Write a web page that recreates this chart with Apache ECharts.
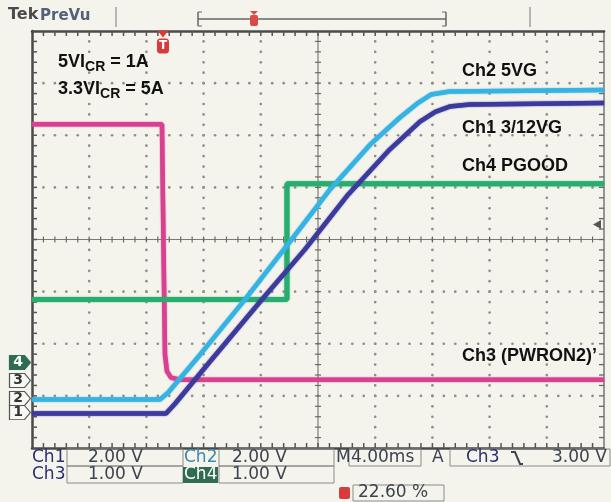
<!DOCTYPE html>
<html><head><meta charset="utf-8">
<script src="https://cdn.jsdelivr.net/npm/echarts@6/dist/echarts.min.js"></script>
<style>html,body{margin:0;padding:0;background:#f4f4ec;}#c{width:611px;height:502px;}</style>
</head><body><div id="c"></div>
<script>
// time in ms relative to screen centre (4 ms/div), level in screen divisions
const ch1Time = [-20, -10.63, -10.00, -7.55, -3.92, -0.91, 2.10, 5.03, 7.13, 8.20, 9.20, 10.6, 20];
const ch1Div  = [-3.34, -3.34, -3.15, -2.34, -1.15, -0.19, 0.86, 1.73, 2.26, 2.45, 2.55, 2.59, 2.62];
const ch2Time = [-20, -11.05, -10.49, -8.25, -5.10, -1.96, 0.84, 3.64, 5.73, 6.90, 7.90, 9.20, 20];
const ch2Div  = [-3.07, -3.07, -2.94, -2.21, -1.15, -0.04, 0.96, 1.82, 2.34, 2.60, 2.78, 2.84, 2.87];
const ch3Time = [-20, -10.91, -10.80, -10.70, -10.56, -10.28, -9.65, 20];
const ch3Div  = [2.21, 2.21, -0.19, -2.21, -2.53, -2.65, -2.69, -2.69];
const ch4Time = [-20, -2.17, -2.17, 20];
const ch4Div  = [-1.15, -1.15, 1.07, 1.07];
const groundLevels = [-3.32, -3.05, -2.705, -2.36];   // Ch1..Ch4 ground markers
const triggerTime = -10.84;
const triggerLevel = 0.29;
const xRange = [-20, 20]; const xInterval = 4;
const yRange = [-4, 4];  const yInterval = 1;
const minorPerDiv = 5;
const traceNames = ['Ch1 3/12VG', 'Ch2 5VG', 'Ch3 (PWRON2)\u2019', 'Ch4 PGOOD'];
const chLabels = ['Ch1', 'Ch2', 'Ch3', 'Ch4'];
const chScales = ['2.00 V', '2.00 V', '1.00 V', '1.00 V'];
const timebaseText = '4.00ms';
const trigSourceText = 'Ch3';
const trigLevelText = '3.00 V';
const trigPosText = '22.60 %';
const noteLines = [['5VI', 'CR', ' = 1A'], ['3.3VI', 'CR', ' = 5A']];

const colors = ['#3c3a9c', '#36b3e3', '#d8418f', '#27ad6e'];
const zip = (t, v) => t.map((x, i) => [x, v[i]]);

function mkX(pos, extra) {
  return Object.assign({ type: 'value', min: xRange[0], max: xRange[1], interval: xInterval, position: pos,
    axisLabel: { show: false }, axisTick: { show: false }, splitLine: { show: false } }, extra);
}
function mkY(pos, extra) {
  return Object.assign({ type: 'value', min: yRange[0], max: yRange[1], interval: yInterval, position: pos,
    axisLabel: { show: false }, axisTick: { show: false }, splitLine: { show: false } }, extra);
}
const edgeLine = { show: true, onZero: false, lineStyle: { color: '#4a4a4a', width: 2.5 } };
const xAxes = [mkX('bottom', { axisLine: edgeLine }), mkX('top', { axisLine: edgeLine })];
const yAxes = [mkY('left', { axisLine: edgeLine }),
  mkY('right', { axisLine: { show: true, onZero: false, lineStyle: { color: '#777', width: 1.5 } } })];

// graticule drawn through the axes' scales
function renderGraticule(params, api) {
  const ch = [];
  const dx = xInterval / minorPerDiv, dy = yInterval / minorPerDiv;
  const nx = Math.round((xRange[1] - xRange[0]) / dx), ny = Math.round((yRange[1] - yRange[0]) / dy);
  const P = (x, y) => api.coord([x, y]);
  const dot = (p) => ch.push({ type: 'circle', shape: { cx: p[0], cy: p[1], r: 1.35 }, style: { fill: '#8e8e8e' } });
  const seg = (x1, y1, x2, y2, c, w) => ch.push({ type: 'line', shape: { x1, y1, x2, y2 }, style: { stroke: c, lineWidth: w } });
  for (let x = xRange[0] + xInterval; x < xRange[1] - 1e-9; x += xInterval) {
    if (Math.abs(x) < 1e-9) continue;
    for (let j = 1; j < ny; j++) dot(P(x, yRange[0] + j * dy));
  }
  for (let y = yRange[0] + yInterval; y < yRange[1] - 1e-9; y += yInterval) {
    if (Math.abs(y) < 1e-9) continue;
    for (let i = 1; i < nx; i++) dot(P(xRange[0] + i * dx, y));
  }
  const c0 = P(0, 0), lt = P(xRange[0], yRange[1]), rb = P(xRange[1], yRange[0]);
  seg(lt[0], c0[1], rb[0], c0[1], '#7a7a7a', 1.2);
  seg(c0[0], lt[1], c0[0], rb[1], '#7a7a7a', 1.2);
  for (let i = 1; i < nx; i++) {
    const p = P(xRange[0] + i * dx, 0);
    seg(p[0], p[1] - 3, p[0], p[1] + 3, '#6a6a6a', 1.2);
    const t = P(xRange[0] + i * dx, yRange[1]), b = P(xRange[0] + i * dx, yRange[0]);
    seg(t[0], t[1], t[0], t[1] + 5, '#555', 1.5);
    seg(b[0], b[1], b[0], b[1] - 5, '#555', 1.5);
  }
  for (let j = 1; j < ny; j++) {
    const p = P(0, yRange[0] + j * dy);
    seg(p[0] - 3, p[1], p[0] + 3, p[1], '#6a6a6a', 1.2);
    const l = P(xRange[0], yRange[0] + j * dy), r = P(xRange[1], yRange[0] + j * dy);
    seg(l[0], l[1], l[0] + 5, l[1], '#555', 1.5);
    seg(r[0], r[1], r[0] - 5, r[1], '#666', 1.3);
  }
  return { type: 'group', children: ch };
}

const groundPath = 'path://M0,0L15,0L21,7L15,14L0,14Z';
function groundMark(i) {
  const filled = i === 3;
  return {
    coord: [xRange[0], groundLevels[i]], symbol: groundPath, symbolSize: [21, 14], symbolOffset: [-12, 0],
    itemStyle: { color: filled ? '#2f6c52' : '#f7f7f3', borderColor: filled ? '#2f6c52' : '#555', borderWidth: 1 },
    label: { show: true, position: 'inside', offset: [-2, 0], formatter: String(i + 1),
      color: filled ? '#fff' : '#333', fontWeight: 'bold', fontSize: 14, fontFamily: 'DejaVu Sans' }
  };
}

const traceData = [zip(ch1Time, ch1Div), zip(ch2Time, ch2Div), zip(ch3Time, ch3Div), zip(ch4Time, ch4Div)];
const zOrder = [4, 5, 2, 3];
const series = [{
  type: 'custom', name: 'graticule', data: [[0, 0]], renderItem: renderGraticule, silent: true, z: 1,
  clip: false, animation: false, xAxisIndex: 0, yAxisIndex: 0
}].concat(traceData.map((d, i) => ({
  type: 'line', name: traceNames[i], data: d, symbol: 'none', smooth: false, z: zOrder[i],
  xAxisIndex: 0, yAxisIndex: 0, animation: false, clip: true,
  lineStyle: { color: colors[i], width: i === 3 ? 5 : 4.5, shadowColor: colors[i], shadowBlur: 1.5 },
  markPoint: { animation: false, data: [groundMark(i)].concat(i === 2 ? [
    { coord: [triggerTime, yRange[1]], symbol: 'triangle', symbolRotate: 180, symbolSize: [11, 7], symbolOffset: [0, 3],
      itemStyle: { color: '#d93b3b' }, label: { show: false } },
    { coord: [triggerTime, yRange[1]], symbol: 'roundRect', symbolSize: [12, 15], symbolOffset: [0, 15],
      itemStyle: { color: '#d93b3b' }, label: { show: true, position: 'inside', formatter: 'T', color: '#fff', fontWeight: 'bold', fontSize: 12, fontFamily: 'DejaVu Sans' } },
    { coord: [xRange[1], triggerLevel], symbol: 'triangle', symbolRotate: 90, symbolSize: [9, 8], symbolOffset: [-7, 0],
      itemStyle: { color: '#555' }, label: { show: false } }
  ] : []) }
})));

const ann = 'bold 18px "Liberation Sans", Arial, sans-serif';
const annSub = 'bold 14px "Liberation Sans", Arial, sans-serif';
const g = [];
function txt(x, y, text, font, fill, extra) {
  g.push({ type: 'text', x: x, y: y, z: 100, style: Object.assign({ text: text, font: font, fill: fill, verticalAlign: 'middle' }, extra || {}) });
}
txt(462, 71, traceNames[1], ann, '#111');
txt(462, 128, traceNames[0], ann, '#111');
txt(462, 166, traceNames[3], ann, '#111');
txt(462, 356, traceNames[2], ann, '#111');
noteLines.forEach((l, k) => {
  g.push({ type: 'text', x: 58, y: 62 + k * 27, z: 100, style: {
    text: l[0] + '{s|' + l[1] + '}' + l[2], font: ann, fill: '#111', verticalAlign: 'middle',
    rich: { s: { font: annSub, fill: '#111', padding: [11, 0, 0, 0] } } } });
});

// header
txt(8, 15, 'Tek', 'bold 16px "DejaVu Sans"', '#4b4b4b');
txt(40, 16, 'PreVu', 'bold 15px "DejaVu Sans"', '#57607a');
const ln = (x1, y1, x2, y2, c, w) => g.push({ type: 'line', z: 100, shape: { x1, y1, x2, y2 }, style: { stroke: c, lineWidth: w || 1 } });
ln(116, 7, 116, 27, '#777');
ln(198, 19, 446, 19, '#666', 1.5);
ln(198, 12, 198, 26, '#666', 1.5); ln(198, 12, 202, 12, '#666'); ln(198, 26, 202, 26, '#666');
ln(446, 12, 446, 26, '#666', 1.5); ln(442, 12, 446, 12, '#666'); ln(442, 26, 446, 26, '#666');
ln(530, 7, 530, 27, '#777');
g.push({ type: 'polygon', z: 101, shape: { points: [[250, 11], [258, 11], [254, 15]] }, style: { fill: '#d94a4a' } });
g.push({ type: 'rect', z: 101, shape: { x: 250, y: 15, width: 8, height: 11, r: 2 }, style: { fill: '#d94a4a' } });
txt(251.5, 21, 'T', 'bold 9px "DejaVu Sans"', '#fff');

// readout
const ro = '17px "DejaVu Sans"';
const valC = '#3d4352', labC = '#2b3070';
const box = (x, y, w, h) => g.push({ type: 'rect', z: 100, shape: { x, y, width: w, height: h }, style: { fill: 'none', stroke: '#8a8a8a', lineWidth: 1 } });
box(67, 449, 116, 17); box(219, 449, 115, 17); box(349, 449, 72, 17); box(450, 449, 160, 17);
box(67, 466, 116, 17); box(219, 466, 115, 17);
box(353, 485, 91, 16);
g.push({ type: 'rect', z: 100, shape: { x: 183, y: 467, width: 35, height: 16 }, style: { fill: '#2f6c52' } });
txt(32, 458, chLabels[0], ro, labC);
txt(88, 458, chScales[0], ro, valC);
txt(184, 458, chLabels[1], ro, '#3b8ab0');
txt(232, 458, chScales[1], ro, valC);
txt(336, 458, 'M', ro, valC);
txt(351, 458, timebaseText, ro, valC);
txt(432, 458, 'A', ro, valC);
txt(466, 458, trigSourceText, ro, labC);
g.push({ type: 'polyline', z: 100, shape: { points: [[511, 452], [515, 452], [520, 464], [523, 464]] }, style: { stroke: valC, lineWidth: 2, fill: 'none' } });
txt(552, 458, trigLevelText, ro, valC);
txt(32, 475, chLabels[2], ro, labC);
txt(88, 475, chScales[2], ro, valC);
txt(184, 475, chLabels[3], ro, '#ffffff');
txt(232, 475, chScales[3], ro, valC);
g.push({ type: 'rect', z: 101, shape: { x: 339, y: 487, width: 11, height: 12, r: 2 }, style: { fill: '#d93b3b' } });
txt(341, 493.5, 'T', 'bold 10px "DejaVu Sans"', '#fff');
txt(358, 493, trigPosText, ro, valC);

const chart = echarts.init(document.getElementById('c'));
chart.setOption({
  backgroundColor: '#f4f4ec',
  animation: false,
  grid: { left: 32, top: 31, width: 572, height: 417, show: false },
  xAxis: xAxes, yAxis: yAxes,
  series: series,
  graphic: g
});
</script></body></html>
